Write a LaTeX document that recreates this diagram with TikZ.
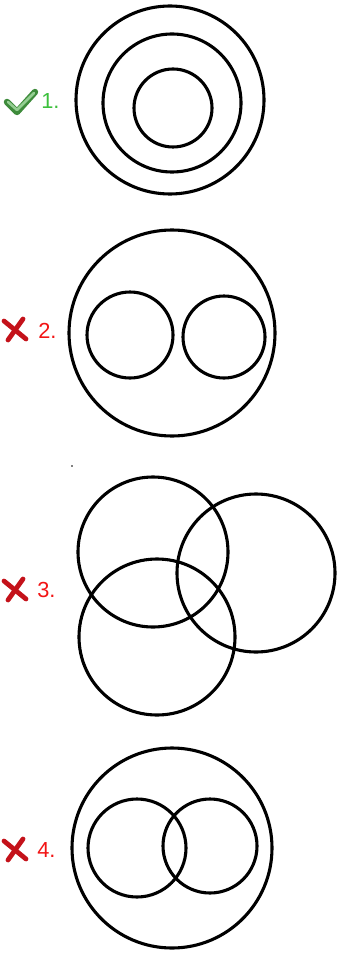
\documentclass[tikz,border=0pt]{standalone}
\usepackage{fontspec}
\setmainfont{Liberation Sans}
\usepackage{xcolor}
\usepackage{tikz}
\definecolor{CheckGreen}{HTML}{4DAE4A}
\definecolor{LabelGreen}{HTML}{3CC03C}
\definecolor{CrossRed}  {HTML}{C4121A}
\definecolor{LabelRed}  {HTML}{F21414}

\tikzset{
  ring/.style={draw=black, line width=2.2pt},
  numlabel/.style={anchor=west, inner sep=0pt, font=\fontsize{15.5}{17}\selectfont},
  crossmark/.style={CrossRed, line width=3.4pt, line cap=round}
}

\begin{document}
\begin{tikzpicture}[x=0.025cm, y=-0.025cm]
  \useasboundingbox (0,0) rectangle (337,958);
  % 1. nested circles (correct)
  \draw[ring] (170,100) circle (94);
  \draw[ring] (172,103) circle (69);
  \draw[ring] (173,108) circle (39);
  \draw[CheckGreen!80!black, line width=4.6pt, line cap=round, line join=round]
    (7,102) -- (17,112) -- (35,92);
  \draw[CheckGreen!60!white, line width=1.8pt, line cap=round, line join=round]
    (8,102) -- (17,110) -- (34,93);
  \node[numlabel, text=LabelGreen] (lab1) at (41,101) {1.};
  % 2. two separate circles inside
  \draw[ring] (172,333) circle (103);
  \draw[ring] (130,335) circle (43);
  \draw[ring] (224,337) circle (41);
  \draw[crossmark] (4,321) -- (26,339);
  \draw[crossmark] (23,319) -- (8,340);
  \node[numlabel, text=LabelRed] (lab2) at (38,331) {2.};
  % 3. three overlapping circles
  \fill (72,466) circle (0.8);
  \draw[ring] (153,552) circle (75);
  \draw[ring] (256,573) circle (79);
  \draw[ring] (157,637) circle (78);
  \draw[crossmark] (4,581) -- (26,599);
  \draw[crossmark] (23,579) -- (8,600);
  \node[numlabel, text=LabelRed] (lab3) at (37,590) {3.};
  % 4. two overlapping circles inside
  \draw[ring] (172,848) circle (100);
  \draw[ring] (137,848) circle (49);
  \draw[ring] (210,846) circle (47);
  \draw[crossmark] (4,841) -- (26,859);
  \draw[crossmark] (23,839) -- (8,860);
  \node[numlabel, text=LabelRed] (lab4) at (37,850) {4.};
\end{tikzpicture}
\end{document}
